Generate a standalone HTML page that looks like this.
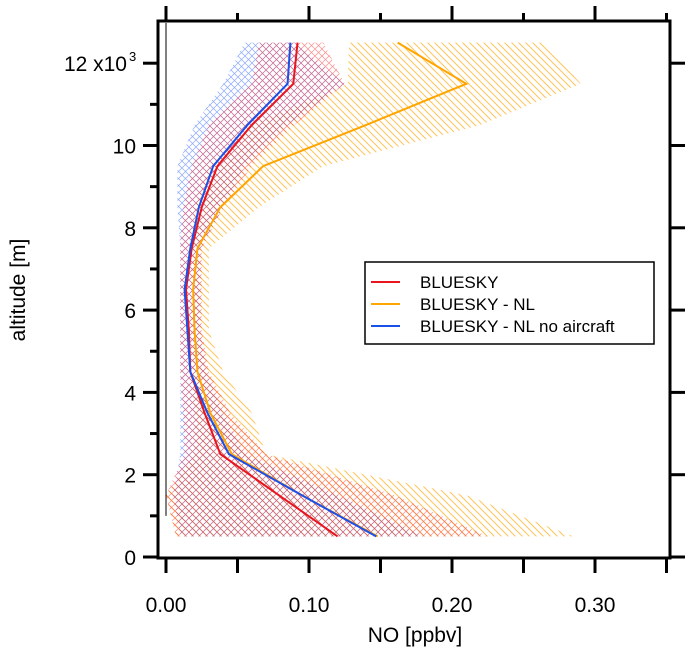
<!DOCTYPE html>
<html><head><meta charset="utf-8"><style>
body{margin:0;background:#fff;}
svg{display:block;font-family:"Liberation Sans",Arial,sans-serif;}
</style></head><body>
<svg id="chart" width="691" height="653">
<defs>
<pattern id="pRed" width="7" height="7" patternUnits="userSpaceOnUse">
<path d="M0,0L7,7M7,0L0,7" stroke="#ff4040" stroke-width="0.7" opacity="0.6"/></pattern>
<pattern id="pBlue" width="7" height="7" patternUnits="userSpaceOnUse">
<path d="M0,0L7,7M7,0L0,7" stroke="#4070ff" stroke-width="0.7" opacity="0.6"/></pattern>
<pattern id="pOrange" width="7" height="7" patternUnits="userSpaceOnUse">
<path d="M0,0L7,7M-3.5,3.5L3.5,10.5M3.5,-3.5L10.5,3.5" stroke="#ffb020" stroke-width="1" opacity="0.75"/></pattern>
</defs>
<g id="bands"></g>
<g id="lines"></g>
<g id="axes"></g>
<g>
<rect x="365" y="262" width="289" height="82" fill="#fff" stroke="#000" stroke-width="1.5"/>
<line x1="371" y1="282" x2="400" y2="282" stroke="#e8141e" stroke-width="2"/>
<text x="420" y="288" font-size="17">BLUESKY</text>
<line x1="371" y1="304" x2="400" y2="304" stroke="#ffa500" stroke-width="2"/>
<text x="420" y="310" font-size="17">BLUESKY - NL</text>
<line x1="371" y1="326" x2="400" y2="326" stroke="#1a4fe8" stroke-width="2"/>
<text x="420" y="332" font-size="17">BLUESKY - NL no aircraft</text>
</g>
<text x="415" y="642" font-size="21" text-anchor="middle">NO [ppbv]</text>
<text transform="translate(25,290) rotate(-90)" font-size="21" text-anchor="middle">altitude [m]</text>
</svg>
<script>
const altitudes=[500,1500,2500,3500,4500,5500,6500,7500,8500,9500,10500,11500,12500];
const redVals=[0.120,0.079,0.038,0.027,0.017,0.016,0.014,0.018,0.025,0.036,0.060,0.089,0.092];
const blueVals=[0.147,0.095,0.044,0.029,0.017,0.015,0.013,0.017,0.023,0.033,0.057,0.085,0.087];
const orangeVals=[0.148,0.095,0.046,0.031,0.022,0.020,0.019,0.022,0.038,0.068,0.140,0.210,0.162];
const redMin=[0.007,0.0,0.013,0.012,0.010,0.010,0.010,0.010,0.012,0.018,0.030,0.060,0.065];
const redMax=[0.225,0.160,0.070,0.045,0.030,0.025,0.025,0.025,0.040,0.060,0.090,0.125,0.110];
const blueMin=[0.010,0.005,0.010,0.010,0.010,0.010,0.010,0.010,0.008,0.008,0.020,0.040,0.055];
const blueMax=[0.180,0.120,0.055,0.040,0.028,0.024,0.024,0.024,0.040,0.055,0.085,0.125,0.090];
const orangeMin=[0.007,0.0,0.020,0.020,0.018,0.018,0.018,0.018,0.020,0.030,0.060,0.127,0.128];
const orangeMax=[0.285,0.210,0.070,0.060,0.040,0.030,0.030,0.030,0.065,0.110,0.220,0.290,0.265];
const xTicks=[0,0.1,0.2,0.3];
const xTickLabels=["0.00","0.10","0.20","0.30"];
const yTicks=[0,2000,4000,6000,8000,10000,12000];
const yTickLabels=["0","2","4","6","8","10","12 x10"];
const X=v=>166+v*1430;
const Y=a=>557-a*0.04115;
const NS="http://www.w3.org/2000/svg";
function mk(tag,attrs,parent){const e=document.createElementNS(NS,tag);for(const k in attrs)e.setAttribute(k,attrs[k]);parent.appendChild(e);return e;}
const bands=document.getElementById('bands'),lines=document.getElementById('lines'),axes=document.getElementById('axes');
function band(mn,mx,pat,name){
  let pts=altitudes.map((a,i)=>X(mx[i])+','+Y(a));
  pts=pts.concat(altitudes.map((a,i)=>X(mn[i])+','+Y(a)).reverse());
  const p=mk('polygon',{points:pts.join(' '),fill:'url(#'+pat+')'},bands);
  
  
}
band(orangeMin,orangeMax,'pOrange','band-bluesky-nl');
band(blueMin,blueMax,'pBlue','band-no-aircraft');
band(redMin,redMax,'pRed','band-bluesky');
const zl=mk('line',{x1:X(0),y1:23,x2:X(0),y2:Y(1000),stroke:'#000','stroke-width':1},lines);


function series(v,col,name){
  const p=mk('polyline',{points:altitudes.map((a,i)=>X(v[i])+','+Y(a)).join(' '),fill:'none',stroke:col,'stroke-width':2},lines);
  
  
}
series(orangeVals,'#ffa500','line-bluesky-nl');
series(redVals,'#e8141e','line-bluesky');
series(blueVals,'#1a4fe8','line-no-aircraft');
const fr=mk('rect',{x:158,y:21,width:512,height:537,fill:'none',stroke:'#000','stroke-width':3},axes);


for(let v=0;v<=0.35001;v+=0.05){
  mk('line',{x1:X(v),y1:558,x2:X(v),y2:573,stroke:'#000','stroke-width':3},axes);
  mk('line',{x1:X(v),y1:21,x2:X(v),y2:(Math.abs(v*10-Math.round(v*10))<0.01?6:13),stroke:'#000','stroke-width':3},axes);
}
xTicks.forEach((v,i)=>{
  const t=mk('text',{x:X(v),y:612,'font-size':21,'text-anchor':'middle'},axes);
  t.textContent=xTickLabels[i];
  
  
});
for(let a=0;a<=12000;a+=1000){
  const major=a%2000===0;
  mk('line',{x1:158,y1:Y(a),x2:major?143:150,y2:Y(a),stroke:'#000','stroke-width':3},axes);
  if(major)mk('line',{x1:670,y1:Y(a),x2:685,y2:Y(a),stroke:'#000','stroke-width':3},axes);
}
yTicks.forEach((a,i)=>{
  const last=i===yTicks.length-1;
  const t=mk('text',{x:last?127:136,y:Y(a)+8,'font-size':21,'text-anchor':'end'},axes);
  t.textContent=yTickLabels[i];
  
  
  if(last){
    const s=mk('text',{x:129,y:Y(a)-2,'font-size':13,'text-anchor':'start'},axes);
    s.textContent='3';
    
    
  }
});
</script>
</body></html>
